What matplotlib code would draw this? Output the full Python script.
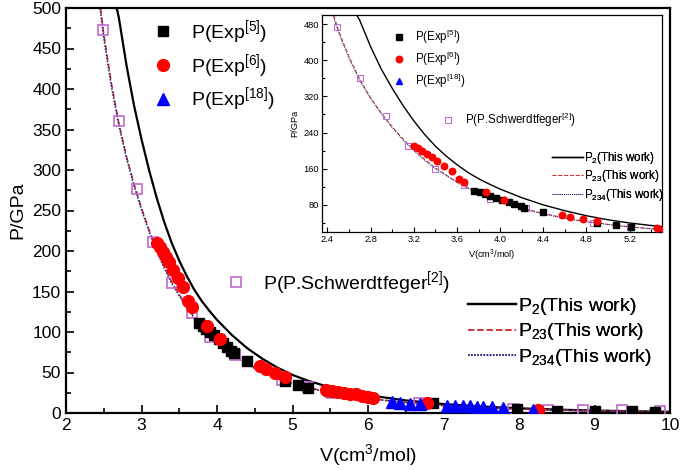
import numpy as np
import matplotlib
matplotlib.use("Agg")
import matplotlib.pyplot as plt
from matplotlib.ticker import MultipleLocator, FormatStrFormatter
from matplotlib.lines import Line2D

plt.rcParams['font.family'] = ['Liberation Sans', 'DejaVu Sans']
plt.rcParams['mathtext.fontset'] = 'custom'
plt.rcParams['mathtext.rm'] = 'Liberation Sans'
plt.rcParams['mathtext.it'] = 'Liberation Sans:italic'

# calculated curves (This work)
V_calc = [2.4, 2.5, 2.6, 2.7, 2.8, 2.9, 3.0, 3.1, 3.2, 3.3, 3.4, 3.5, 3.6, 3.7, 3.8, 3.9,
          4.0, 4.2, 4.4, 4.6, 4.8, 5.0, 5.2, 5.5, 6.0, 6.5, 7.0, 7.5, 8.0, 8.5, 9.0, 9.5, 10.0]
P2 = [680, 600, 530, 488, 430, 380, 338, 300, 266, 236, 210, 188, 169, 152, 138, 126,
      115, 96, 80, 67, 56, 47, 40, 31.5, 22, 15.5, 11, 8, 5.8, 4.2, 3.0, 2.2, 1.6]
P23 = [545, 468, 408, 358, 317, 283, 253, 226, 202, 181, 162, 146, 131, 118, 107, 97,
       88, 73, 61, 51, 43, 37, 31.5, 25.5, 18, 13, 9.2, 6.7, 4.9, 3.6, 2.6, 1.9, 1.4]
P234 = [538, 463, 404, 355, 315, 281, 251, 224, 200, 179, 160, 145, 130, 117, 106, 96,
        87, 72, 60, 50, 42.5, 36.5, 31, 25, 17.7, 12.8, 9.0, 6.6, 4.8, 3.5, 2.5, 1.8, 1.3]

# P.Schwerdtfeger
V_sch = [2.49, 2.70, 2.94, 3.15, 3.40, 3.67, 3.91, 4.24, 4.86, 5.20, 5.52, 6.68, 7.92, 8.38, 8.85, 9.36, 9.87]
P_sch = [473, 360, 276, 211, 160, 123, 94, 72, 41, 32, 25, 12, 5, 4.3, 3.8, 3.3, 3.0]

# Exp [5]
V5 = [3.76, 3.81, 3.86, 3.91, 3.96, 4.02, 4.08, 4.13, 4.19, 4.22, 4.40, 4.90, 5.07, 5.21, 5.48,
      6.86, 7.97, 8.50, 9.00, 9.50, 9.80]
P5 = [111, 108, 104, 100, 96, 91, 86, 81, 77, 74, 64, 39, 35, 31, 27, 12, 5, 3, 2.5, 2, 1.5]

# Exp [6]
V6 = [3.20, 3.24, 3.28, 3.32, 3.37, 3.42, 3.48, 3.55, 3.62, 3.67, 3.87, 4.04, 4.57, 4.65, 4.77,
      4.90, 5.45, 5.52, 5.60, 5.68, 5.76, 5.84, 5.92, 6.00, 6.07, 6.78, 8.25]
P6 = [210, 205, 199, 193, 187, 177, 167, 156, 138, 131, 108, 91, 58, 54, 49, 44, 28, 27, 26, 25,
      24, 23, 21, 20, 18, 12, 4]

# Exp [18]
V18 = [6.32, 6.42, 6.55, 6.69, 7.05, 7.15, 7.26, 7.35, 7.44, 7.52, 7.64, 7.79, 8.19]
P18 = [13.5, 12.5, 11.5, 10.5, 9, 9, 8.5, 8.5, 8, 8, 7.5, 6.5, 4]

sch_color = '#c06ad0'

fig = plt.figure(figsize=(6.83, 4.70), dpi=100)
ax = fig.add_axes([66/683, 1-413/470, 604/683, 405/470])


def draw(a, big):
    lw = 1.6 if big else 1.0
    a.plot(V_calc, P2, color='black', lw=lw, zorder=2)
    a.plot(V_calc, P23, color='#d03030', lw=lw*0.7, ls=(0, (4, 2)), zorder=2)
    a.plot(V_calc, P234, color='#202080', lw=lw*0.7, ls=(0, (1, 1)), zorder=2)
    s = 1.0 if big else 0.55
    a.plot(V_sch, P_sch, ls='none', marker='s', ms=7*s, mfc='none', mec=sch_color, mew=1.0*s + 0.2, zorder=3)
    a.plot(V5, P5, ls='none', marker='s', ms=7*s, color='black', zorder=4)
    a.plot(V6, P6, ls='none', marker='o', ms=8.5*s, color='red', zorder=5)
    a.plot(V18, P18, ls='none', marker='^', ms=8*s, color='blue', zorder=6)


def legends(a, fs, s, hl, pos_exp, pos_sch, pos_line, lw):
    h_exp = [Line2D([], [], ls='none', marker='s', ms=7*s, color='black'),
             Line2D([], [], ls='none', marker='o', ms=8.5*s, color='red'),
             Line2D([], [], ls='none', marker='^', ms=8*s, color='blue')]
    l_exp = ['P(Exp$^{[5]}$)', 'P(Exp$^{[6]}$)', 'P(Exp$^{[18]}$)']
    leg1 = a.legend(h_exp, l_exp, loc='upper left', bbox_to_anchor=pos_exp, frameon=False,
                    fontsize=fs, handlelength=1.0, handletextpad=0.9, labelspacing=0.3,
                    borderpad=0, borderaxespad=0)
    a.add_artist(leg1)
    h_sch = [Line2D([], [], ls='none', marker='s', ms=7*s, mfc='none', mec=sch_color, mew=s + 0.2)]
    leg2 = a.legend(h_sch, ['P(P.Schwerdtfeger$^{[2]}$)'], loc='upper left', bbox_to_anchor=pos_sch,
                    frameon=False, fontsize=fs, handlelength=1.0, handletextpad=0.9,
                    borderpad=0, borderaxespad=0)
    a.add_artist(leg2)
    h_line = [Line2D([], [], color='black', lw=lw),
              Line2D([], [], color='#d03030', lw=lw*0.7, ls=(0, (4, 2))),
              Line2D([], [], color='#202080', lw=lw*0.7, ls=(0, (1, 1)))]
    l_line = ['P$_{2}$(This work)', 'P$_{23}$(This work)', 'P$_{234}$(This work)']
    leg3 = a.legend(h_line, l_line, loc='upper left', bbox_to_anchor=pos_line, frameon=False,
                    fontsize=fs, handlelength=hl, handletextpad=0.1, labelspacing=0.25,
                    borderpad=0, borderaxespad=0)
    a.add_artist(leg3)


draw(ax, True)
ax.set_xlim(2, 10)
ax.set_ylim(0, 500)
ax.xaxis.set_major_locator(MultipleLocator(1))
ax.xaxis.set_minor_locator(MultipleLocator(0.5))
ax.yaxis.set_major_locator(MultipleLocator(50))
ax.yaxis.set_minor_locator(MultipleLocator(25))
ax.tick_params(which='both', direction='in', top=False, right=False, width=1.2, labelsize=12.5)
ax.tick_params(which='major', length=6)
ax.tick_params(which='minor', length=3.5)
for sp in ax.spines.values():
    sp.set_linewidth(1.6)
ax.set_xlabel('V(cm$^{3}$/mol)', fontsize=14, labelpad=7)
ax.set_ylabel('P/GPa', fontsize=14, labelpad=4)
legends(ax, 14, 1.0, 2.5, (0.145, 0.975), (0.265, 0.355), (0.665, 0.29), 1.6)

# inset
ins = fig.add_axes([322/683, 1-232/470, 340/683, 217/470])
draw(ins, False)
ins.set_xlim(2.35, 5.5)
ins.set_ylim(20, 500)
ins.xaxis.set_major_locator(MultipleLocator(0.4))
ins.xaxis.set_minor_locator(MultipleLocator(0.2))
ins.xaxis.set_major_formatter(FormatStrFormatter('%.1f'))
ins.yaxis.set_major_locator(MultipleLocator(80))
ins.yaxis.set_minor_locator(MultipleLocator(40))
ins.tick_params(which='both', direction='in', top=False, right=False, width=0.8, labelsize=6.7, pad=2)
ins.tick_params(which='major', length=3.5)
ins.tick_params(which='minor', length=2)
for sp in ins.spines.values():
    sp.set_linewidth(0.9)
ins.set_xlabel('V(cm$^{3}$/mol)', fontsize=6.7, labelpad=2.5)
ins.set_ylabel('P/GPa', fontsize=6.7, labelpad=3)
legends(ins, 8.3, 0.55, 2.7, (0.21, 0.94), (0.355, 0.56), (0.675, 0.38), 1.0)

fig.savefig('out.png', dpi=100)
